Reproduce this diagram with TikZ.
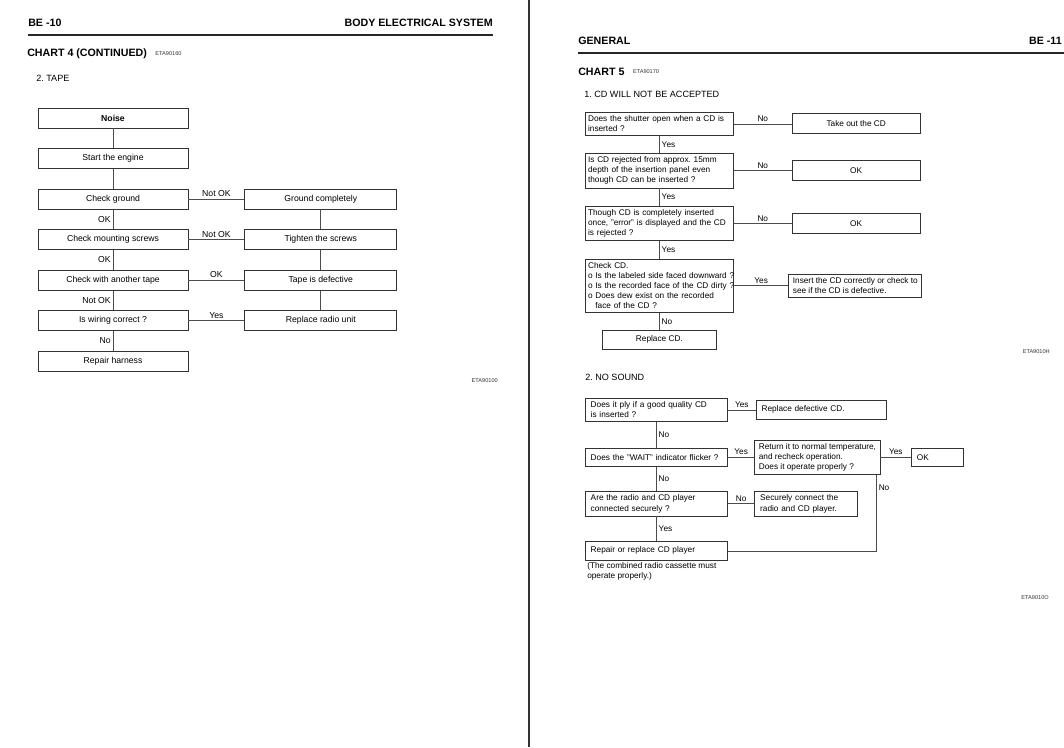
\documentclass[tikz,border=0pt]{standalone}
\usepackage{fontspec}
\setmainfont{Liberation Sans}
\usetikzlibrary{positioning}
\hyphenpenalty=10000
\exhyphenpenalty=10000
\frenchspacing
\newcommand\tapefont{\fontsize{6.5}{7.8}\selectfont}
\newcommand\cdfont{\fontsize{6.2}{7.6}\selectfont}
\newcommand\titlefont{\fontsize{8}{9.6}\selectfont\bfseries}
\newcommand\partfont{\fontsize{6.8}{8}\selectfont}
\newcommand\codefont{\fontsize{4.2}{5}\selectfont}
\tikzset{
    leftcol/.style={
        rectangle, minimum width=112.5pt, minimum height=15pt, inner sep=1pt,
        text centered, draw=black!80, line width=0.6pt, font=\tapefont
    },
    rightcol/.style={
        leftcol, minimum width=114pt
    },
    askbox/.style={
        rectangle, text width=107pt, inner xsep=2pt, inner ysep=2.5pt, minimum height=14pt,
        align=left, draw=black!80, line width=0.6pt, font=\cdfont
    },
    answerbox/.style={
        rectangle, minimum width=96pt, minimum height=15pt,
        text centered, draw=black!80, line width=0.6pt, font=\cdfont
    },
    playbox/.style={
        askbox, text width=98.5pt, inner xsep=4pt
    },
    fixbox/.style={
        rectangle, inner xsep=4pt, inner ysep=2.5pt, minimum height=14pt,
        align=left, draw=black!80, line width=0.6pt, font=\cdfont
    },
    link/.style={
        draw=black!70, line width=0.5pt
    },
    tapetag/.style={
        inner sep=1.5pt, font=\tapefont
    },
    cdtag/.style={
        inner sep=1.5pt, font=\cdfont
    },
    heading/.style={
        inner sep=0pt, font=\titlefont
    },
    parthead/.style={
        inner sep=0pt, anchor=west, font=\partfont
    },
    code/.style={
        inner sep=0pt, font=\codefont, text=black!80
    },
    pagerule/.style={
        line width=1.6pt, draw=black!85
    }
}

\begin{document}
\begin{tikzpicture}[x=0.75pt, y=-0.75pt]

    \useasboundingbox (0,0) rectangle (1064,747);

    % page divider
    \draw[line width=1.9pt, black!80] (529,0) -- (529,747);

    % ---- left page: BE-10 ----
    \node[heading, anchor=west] (pgl)  at (28,23)  {BE -10};
    \node[heading, anchor=east] (bes)  at (493,23) {BODY ELECTRICAL SYSTEM};
    \draw[pagerule] (28,35) -- (493,35);
    \node[heading, anchor=west] (ch4)  at (27,54)  {CHART 4 (CONTINUED)};
    \node[code, right=6pt of ch4]      (ch4code)   {ETA90160};
    \node[parthead] (tape) at (36,78) {2. TAPE};

    \node[leftcol, font=\tapefont\bfseries] at (113,118) (noise) {Noise};
    \node[leftcol, below=14.8pt of noise]  (start) {Start the engine};
    \node[leftcol, below=14.8pt of start]  (cg)    {Check ground};
    \node[leftcol, below=14.8pt of cg]     (ms)    {Check mounting screws};
    \node[leftcol, below=14.8pt of ms]     (ct)    {Check with another tape};
    \node[leftcol, below=14.8pt of ct]     (wir)   {Is wiring correct ?};
    \node[leftcol, below=14.8pt of wir]    (harn)  {Repair harness};

    \node[rightcol, right=42pt of cg]      (gc)    {Ground completely};
    \node[rightcol, right=42pt of ms]      (tight) {Tighten the screws};
    \node[rightcol, right=42pt of ct]      (tdef)  {Tape is defective};
    \node[rightcol, right=42pt of wir]     (radio) {Replace radio unit};

    \draw[link] (noise) -- (start);
    \draw[link] (start) -- (cg);
    \draw[link] (cg)  -- node[tapetag, left] {OK} (ms);
    \draw[link] (ms)  -- node[tapetag, left] {OK} (ct);
    \draw[link] (ct)  -- node[tapetag, left] {Not OK} (wir);
    \draw[link] (wir) -- node[tapetag, left] {No} (harn);

    \draw[link] (cg)  -- node[tapetag, above] {Not OK} (gc);
    \draw[link] (ms)  -- node[tapetag, above] {Not OK} (tight);
    \draw[link] (ct)  -- node[tapetag, above] {OK} (tdef);
    \draw[link] (wir) -- node[tapetag, above] {Yes} (radio);

    \draw[link] (gc)    -- (tight);
    \draw[link] (tight) -- (tdef);
    \draw[link] (tdef)  -- (radio);

    \node[code, anchor=east] (tapecode) at (498,381) {ETA90100};

    % ---- right page: BE-11 ----
    \node[heading, anchor=west] (gen)  at (578,41)  {GENERAL};
    \node[heading, anchor=east] (pgr)  at (1062,41) {BE -11};
    \draw[pagerule] (578,53) -- (1064,53);
    \node[heading, anchor=west] (ch5)  at (578,72)  {CHART 5};
    \node[code, right=6pt of ch5]      (ch5code)    {ETA90170};
    \node[parthead] (nocd) at (584,94) {1. CD WILL NOT BE ACCEPTED};

    \node[askbox, anchor=north west] at (585,112) (shut)
        {Does the shutter open when a CD is\\inserted ?};
    \node[askbox, below=13pt of shut] (rej)
        {Is CD rejected from approx. 15mm\\depth of the insertion panel even\\though CD can be inserted ?};
    \node[askbox, below=13pt of rej] (err)
        {Though CD is completely inserted\\once, "error" is displayed and the CD\\is rejected ?};
    \node[askbox, below=13pt of err] (chk)
        {Check CD.\\\mbox{o Is the labeled side faced downward ?}\\\mbox{o Is the recorded face of the CD dirty ?}\\o Does dew exist on the recorded\\\phantom{o}\ face of the CD ?};
    \node[answerbox, minimum width=85.5pt, minimum height=14pt, below=13pt of chk] (repcd) {Replace CD.};

    \node[answerbox, right=43.5pt of shut] (takeout) {Take out the CD};
    \node[answerbox, right=43.5pt of rej]  (okrej)   {OK};
    \node[answerbox, right=43.5pt of err]  (okerr)   {OK};
    \node[fixbox, inner xsep=3pt, right=41pt of chk] (insert)
        {Insert the CD correctly or check to\\see if the CD is defective.};

    \draw[link] (shut) -- node[cdtag, above] {No} (takeout);
    \draw[link] (rej)  -- node[cdtag, above] {No} (okrej);
    \draw[link] (err)  -- node[cdtag, above] {No} (okerr);
    \draw[link] (chk)  -- node[cdtag, above] {Yes} (insert);
    \draw[link] (shut) -- node[cdtag, right] {Yes} (rej);
    \draw[link] (rej)  -- node[cdtag, right] {Yes} (err);
    \draw[link] (err)  -- node[cdtag, right] {Yes} (chk);
    \draw[link] (chk)  -- node[cdtag, right] {No} (repcd);

    \node[code, anchor=east] (cdcode) at (1050,352) {ETA9010H};

    \node[parthead] (nosnd) at (585,377) {2. NO SOUND};

    \node[playbox, anchor=north west] at (585,398) (ply)
        {Does it ply if a good quality CD\\is inserted ?};
    \node[playbox, below=19.5pt of ply]  (wait) {Does the "WAIT" indicator flicker ?};
    \node[playbox, below=18pt of wait]   (conn) {Are the radio and CD player\\connected securely ?};
    \node[playbox, below=18.5pt of conn] (rep)  {Repair or replace CD player};
    \node[cdtag, align=left, anchor=north west] at (rep.south west) (note)
        {(The combined radio cassette must\\operate properly.)};

    \node[fixbox, text width=89.5pt, right=21pt of ply] (rdcd) {Replace defective CD.};
    \node[fixbox, inner xsep=3pt, right=20pt of wait] (ret)
        {Return it to normal temperature,\\and recheck operation.\\Does it operate properly ?};
    \node[fixbox, text width=31pt, right=23pt of ret] (okb) {OK};
    \node[fixbox, text width=69pt, right=20pt of conn] (secure)
        {Securely connect the\\radio and CD player.};

    \draw[link] (ply)  -- node[cdtag, above] {Yes} (rdcd);
    \draw[link] (wait) -- node[cdtag, above] {Yes} (ret);
    \draw[link] (ret)  -- node[cdtag, above] {Yes} (okb);
    \draw[link] (conn) -- node[cdtag, above] {No} (secure);
    \draw[link] (ply)  -- node[cdtag, right] {No} (wait);
    \draw[link] (wait) -- node[cdtag, right] {No} (conn);
    \draw[link] (conn) -- node[cdtag, right] {Yes} (rep);
    \coordinate (drop) at ([xshift=-3pt]ret.south east);
    \draw[link] (drop) |- node[cdtag, right, pos=0.08] {No} (rep.east);

    \node[code, anchor=east] (sndcode) at (1049,598) {ETA9010O};

\end{tikzpicture}
\end{document}
